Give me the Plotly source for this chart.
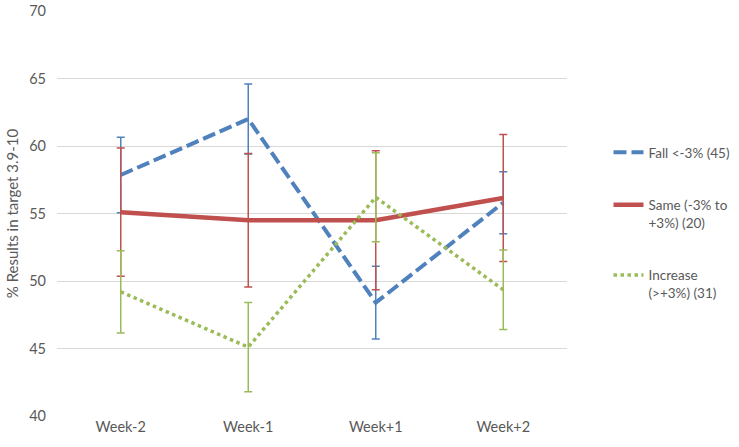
import plotly.graph_objects as go

weeks = ["Week-2", "Week-1", "Week+1", "Week+2"]

fall_vals = [57.85, 62.0, 48.4, 55.8]
fall_err = [2.8, 2.6, 2.7, 2.3]

same_vals = [55.1, 54.5, 54.5, 56.15]
same_err = [4.75, 4.95, 5.15, 4.7]

inc_vals = [49.2, 45.1, 56.2, 49.35]
inc_err = [3.05, 3.3, 3.3, 2.95]

names = ["Fall <-3% (45)", "Same (-3% to<br>+3%) (20)", "Increase<br>(>+3%) (31)"]
colors = ["#4F81BD", "#C0504D", "#9BBB59"]

FONT = "Lato, 'Open Sans', sans-serif"
GREY = "#595959"

fig = go.Figure()

series = [
    (fall_vals, fall_err, names[0], colors[0], dict(dash="13px,5px", width=4)),
    (same_vals, same_err, names[1], colors[1], dict(dash="solid", width=4.5)),
    (inc_vals, inc_err, names[2], colors[2], dict(dash="dot", width=3.5)),
]

for i, (vals, err, name, col, ln) in enumerate(series):
    fig.add_trace(go.Scatter(
        x=weeks, y=vals, name=name, mode="lines",
        legendgroup=f"g{i}",
        line=dict(color=col, **ln),
        error_y=dict(type="data", array=err, symmetric=True,
                     color=col, thickness=1.5, width=4),
    ))

fig.update_layout(
    width=739, height=447,
    margin=dict(l=57, r=172, t=11, b=31),
    paper_bgcolor="white", plot_bgcolor="white",
    font=dict(family=FONT, size=14, color=GREY),
    showlegend=True,
    legend=dict(xref="container", yref="container",
                x=0.8234, xanchor="left", y=0.6935, yanchor="top",
                tracegroupgap=32, valign="top",
                font=dict(family=FONT, size=13.5, color=GREY),
                bgcolor="rgba(0,0,0,0)"),
    xaxis=dict(type="category", range=[-0.5, 3.5], showgrid=False,
               showline=False, zeroline=False, ticks="", automargin=False,
               tickfont=dict(size=14.5, color=GREY)),
    yaxis=dict(range=[40, 70], dtick=5, showgrid=True, gridcolor="#D9D9D9",
               gridwidth=1, zeroline=False, showline=False, ticks="",
               automargin=False, ticklabelstandoff=10,
               tickfont=dict(size=14.5, color=GREY),
               title=dict(text="% Results in target 3.9-10",
                          font=dict(size=15, color=GREY), standoff=6)),
)

fig.write_html("out.html", config={"displayModeBar": False},
               post_script="document.body.style.margin='0';")
